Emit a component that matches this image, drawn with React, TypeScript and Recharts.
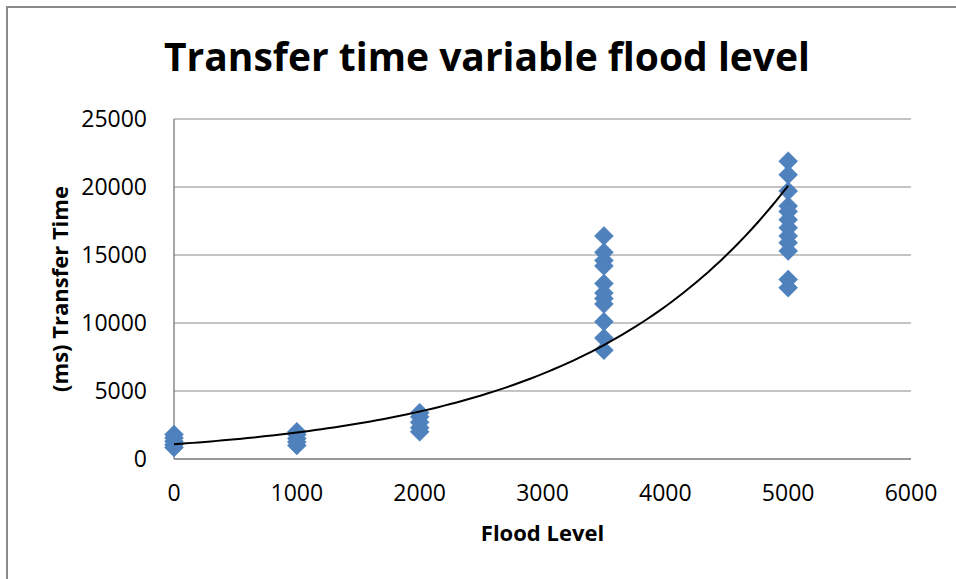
import React from "react";
import { ScatterChart, Scatter, XAxis, YAxis, CartesianGrid, Label } from "recharts";

// Flood level categories and measured transfer times (ms)
const level0: number[] = [1800, 1550, 1300, 1050, 850];
const level1000: number[] = [2000, 1800, 1500, 1250, 1000];
const level2000: number[] = [3400, 3100, 2700, 2300, 2000];
const level3500: number[] = [16400, 15200, 14600, 14200, 12900, 12200, 11800, 11400, 10100, 8900, 8000];
const level5000: number[] = [21900, 20900, 19700, 18600, 18200, 17600, 17000, 16400, 15900, 15300, 13200, 12600];

const floodLevels: number[] = [0, 1000, 2000, 3500, 5000];
const xTicks: number[] = [0, 1000, 2000, 3000, 4000, 5000, 6000];
const yTicks: number[] = [0, 5000, 10000, 15000, 20000, 25000];

const groups = [level0, level1000, level2000, level3500, level5000];
const points = groups.flatMap((vals, i) => vals.map((v) => ({ x: floodLevels[i], y: v })));

// Exponential trendline (least squares on ln y), as Excel does
const n = points.length;
const sx = points.reduce((s, p) => s + p.x, 0);
const sl = points.reduce((s, p) => s + Math.log(p.y), 0);
const sxx = points.reduce((s, p) => s + p.x * p.x, 0);
const sxl = points.reduce((s, p) => s + p.x * Math.log(p.y), 0);
const b = (n * sxl - sx * sl) / (n * sxx - sx * sx);
const lnA = (sl - b * sx) / n;
const trend: { x: number; y: number }[] = [];
for (let x = 0; x <= 5000; x += 50) trend.push({ x, y: Math.exp(lnA + b * x) });

const FONT = "'Open Sans', sans-serif";

const Diamond = (props: any) => {
  const { cx, cy } = props;
  const r = 9.5;
  return (
    <polygon
      points={`${cx},${cy - r} ${cx + r},${cy} ${cx},${cy + r} ${cx - r},${cy}`}
      fill="#4F81BD"
      stroke="#4A7EBB"
      strokeWidth={0.5}
    />
  );
};

const NoShape = () => <g />;

export default function App() {
  return (
    <div style={{ position: "absolute", left: 0, top: 0, width: 956, height: 579, background: "#fff" }}>
      <div
        style={{
          position: "absolute",
          left: 6,
          top: 6,
          width: 960,
          height: 600,
          borderLeft: "2px solid #8a8a8a",
          borderTop: "2px solid #8a8a8a",
          boxSizing: "border-box",
        }}
      />
      <div
        style={{
          position: "absolute",
          left: 0,
          width: 974,
          top: 28,
          textAlign: "center",
          fontFamily: FONT,
          fontWeight: 700,
          fontSize: 39,
          lineHeight: "56px",
          color: "#000",
        }}
      >
        Transfer time variable flood level
      </div>
      <div style={{ position: "absolute", left: 0, top: 0 }}>
        <ScatterChart width={956} height={579} margin={{ top: 119, right: 45, bottom: 0, left: 0 }}>
          <CartesianGrid horizontal vertical={false} stroke="#8a8a8a" strokeWidth={1.2} />
          <XAxis
            type="number"
            dataKey="x"
            domain={[0, 6000]}
            ticks={xTicks}
            height={120}
            tickLine={false}
            tickSize={0}
            tickMargin={26}
            axisLine={{ stroke: "#8a8a8a", strokeWidth: 1.5 }}
            tick={{ fill: "#000", fontSize: 23, fontFamily: FONT }}
            interval={0}
          >
            <Label value="Flood Level" position="insideTop" offset={66} style={{ fontFamily: FONT, fontWeight: 700, fontSize: 22, fill: "#000" }} />
          </XAxis>
          <YAxis
            type="number"
            dataKey="y"
            domain={[0, 25000]}
            ticks={yTicks}
            width={174}
            tickLine={false}
            tickSize={0}
            tickMargin={27}
            axisLine={{ stroke: "#8a8a8a", strokeWidth: 1.5 }}
            tick={{ fill: "#000", fontSize: 23, fontFamily: FONT }}
            interval={0}
          >
            <Label
              value="(ms) Transfer Time"
              angle={-90}
              position="insideLeft"
              offset={60}
              style={{ fontFamily: FONT, fontWeight: 700, fontSize: 22, fill: "#000", textAnchor: "middle" }}
            />
          </YAxis>
          <Scatter data={points} shape={<Diamond />} isAnimationActive={false} />
          <Scatter
            data={trend}
            shape={<NoShape />}
            line={{ stroke: "#000", strokeWidth: 2 }}
            lineType="joint"
            isAnimationActive={false}
          />
        </ScatterChart>
      </div>
    </div>
  );
}
